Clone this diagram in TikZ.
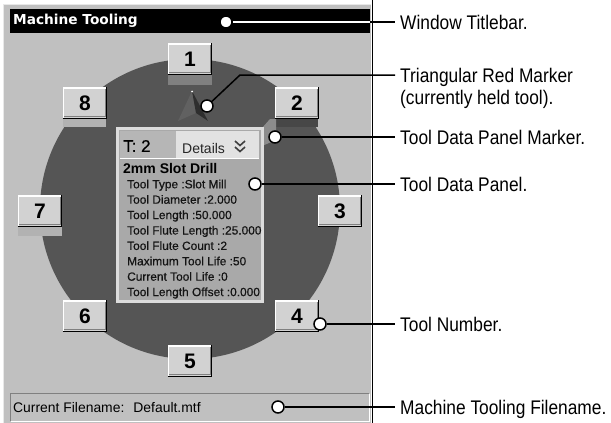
\documentclass[tikz,border=0pt]{standalone}
\usepackage{fontspec}
\setmainfont{Liberation Sans}
\newfontfamily\labelfont[FakeStretch=0.88]{Liberation Sans}
\newfontfamily\panelfont[FakeBold=0.5]{Liberation Sans}
\newfontfamily\capfont{DejaVu Sans}
\definecolor{winbg}{HTML}{C0C0C0}
\definecolor{winhi}{HTML}{E8E8E8}
\definecolor{disc}{HTML}{555555}
\definecolor{btnface}{HTML}{D2D2D2}
\definecolor{btnshade}{HTML}{808080}
\definecolor{panelbody}{HTML}{A9A9A9}
\definecolor{panelrim}{HTML}{DCDCDC}
\definecolor{headcell}{HTML}{B6B6B6}
\definecolor{detcell}{HTML}{E2E2E2}
\begin{document}
\begin{tikzpicture}[x=1pt,y=-1pt,
  toolbtn/.style={minimum width=44pt,minimum height=31pt,inner sep=0pt,
    fill=btnface,font=\bfseries\fontsize{21}{21}\selectfont},
  lbl/.style={anchor=base west,inner xsep=5pt,inner ysep=0pt,
    font=\labelfont\fontsize{19.7}{22}\selectfont},
  detail/.style={anchor=base west,inner sep=0pt,text=black!92,
    font=\panelfont\fontsize{11.9}{14}\selectfont},
  leader/.style={line width=1.5pt,black},
  dot/.style={circle,minimum size=12pt,inner sep=0pt,fill=white,draw=black,line width=1.5pt}]
\useasboundingbox (0,0) rectangle (611,423);
\fill[white] (0,0) rectangle (611,423);

% window body and title bar
\fill[winbg] (3,4) rectangle (371,423);
\draw[winhi,line width=1pt] (3.5,423) -- (3.5,4.5) -- (371,4.5);
\fill[black] (10,9) rectangle (370,33);
\node[anchor=west,inner sep=0pt,text=white,font=\capfont\bfseries\fontsize{13.7}{16}\selectfont]
  (title) at (13,21) {Machine Tooling};

% tool carousel disc
\fill[disc] (190,209) circle[radius=150pt];

% pocket bands beside the buttons
\fill[btnshade] (168,75) rectangle (212,85);
\fill[black!30] (63,118) rectangle (106,127);
\fill[black!30] (18,227) rectangle (62,236);
\fill[black!72] (275,118) rectangle (318,127);

% held-tool marker
\fill[black!62] (192,91) -- (178,121) -- (196,113) -- cycle;
\fill[black!82] (192,91) -- (196,113) -- (208,121) -- cycle;
\fill[white] (192,91.5) circle[radius=1pt];

% panel marker wedge
\fill[black!45] (262,128) -- (270,119) -- (276,119) -- (276,140) -- (262,146) -- cycle;

% tool data panel
\fill[panelrim] (116,127) rectangle (264,303);
\fill[panelbody] (119,130) rectangle (261,300);
\fill[headcell] (120,131) rectangle (176,158);
\fill[detcell] (176,131) rectangle (259,158);
\draw[white,line width=1pt] (120,158.5) -- (259,158.5);
\node[anchor=west,inner sep=0pt,font=\panelfont\fontsize{17}{18}\selectfont] (tno) at (123,146) {T: 2};
\node[anchor=west,inner sep=0pt,font=\fontsize{14}{16}\selectfont,text=black!85] (det) at (182,148) {Details};
\draw[black!75,line width=1.6pt] (235,141) -- (240,145.5) -- (245,141);
\draw[black!75,line width=1.6pt] (235,147) -- (240,151.5) -- (245,147);
\node[anchor=base west,inner sep=0pt,font=\bfseries\fontsize{14}{16}\selectfont] (tname) at (123,173) {2mm Slot Drill};
\foreach \i/\t in {1/{Tool Type :Slot Mill},2/{Tool Diameter :2.000},3/{Tool Length :50.000},
  4/{Tool Flute Length :25.000},5/{Tool Flute Count :2},6/{Maximum Tool Life :50},
  7/{Current Tool Life :0},8/{Tool Length Offset :0.000}}
  \node[detail] (d\i) at (127,{188.3+15.4*(\i-1)}) {\t};

% tool buttons
\node[toolbtn] (b1) at (190,59) {1};
\node[toolbtn] (b2) at (297,103) {2};
\node[toolbtn] (b3) at (340,211) {3};
\node[toolbtn] (b4) at (297,316) {4};
\node[toolbtn] (b5) at (190,361) {5};
\node[toolbtn] (b6) at (85,316) {6};
\node[toolbtn] (b7) at (40,211) {7};
\node[toolbtn] (b8) at (85,103) {8};
\foreach \n in {1,...,8}{
  \draw[white,line width=1.5pt] ([shift={(0.75,-0.75)}]b\n.south west) -- ([shift={(0.75,0.75)}]b\n.north west) -- ([shift={(-0.75,0.75)}]b\n.north east);
  \draw[btnshade,line width=1pt] ([shift={(1.5,-2)}]b\n.south west) -- ([shift={(-2,-2)}]b\n.south east) -- ([shift={(-2,1.5)}]b\n.north east);
  \draw[black,line width=1.2pt] ([shift={(0,-0.6)}]b\n.south west) -- ([shift={(-0.6,-0.6)}]b\n.south east) -- ([shift={(-0.6,0)}]b\n.north east);
}

% filename status bar
\draw[btnshade,line width=1pt] (10.5,421) -- (10.5,393.5) -- (369,393.5);
\draw[white,line width=1pt] (369,393.5) -- (369,421) -- (10.5,421);
\node[anchor=west,inner sep=0pt,font=\fontsize{13.9}{15}\selectfont] (fname) at (13,408)
  {Current Filename:\hspace{9pt}Default.mtf};

% window edge rule
\coordinate (vtop) at (372.5,0);
\coordinate (vbot) at (372.5,423);
\draw[line width=1.6pt] (vtop) -- (vbot);

% callout labels
\node[lbl] (lA) at (395,29) {Window Titlebar.};
\node[lbl] (lB) at (395,82) {Triangular Red Marker};
\node[lbl] (lB2) at (395,104) {(currently held tool).};
\node[lbl] (lC) at (395,144) {Tool Data Panel Marker.};
\node[lbl] (lD) at (395,191) {Tool Data Panel.};
\node[lbl] (lE) at (395,331) {Tool Number.};
\node[lbl] (lF) at (395,414) {Machine Tooling Filename.};

% callout dots
\node[dot] (pA) at (226,22) {};
\node[dot] (pB) at (207,106) {};
\node[dot] (pC) at (275,137) {};
\node[dot] (pD) at (255,184) {};
\node[dot] (pE) at (320,324) {};
\node[dot] (pF) at (278,407) {};
\coordinate (kB) at (240,75);
\coordinate (wA) at (370,22);

% leader lines
\draw[leader] (pA) -- (pA -| lA.west);
\draw[white,line width=1.5pt] (pA) -- (wA);
\draw[leader] (pB) -- (kB) -- (kB -| lB.west);
\draw[leader] (pC) -- (pC -| lC.west);
\draw[leader] (pD) -- (pD -| lD.west);
\draw[leader] (pE) -- (pE -| lE.west);
\draw[leader] (pF) -- (pF -| lF.west);
\end{tikzpicture}
\end{document}
